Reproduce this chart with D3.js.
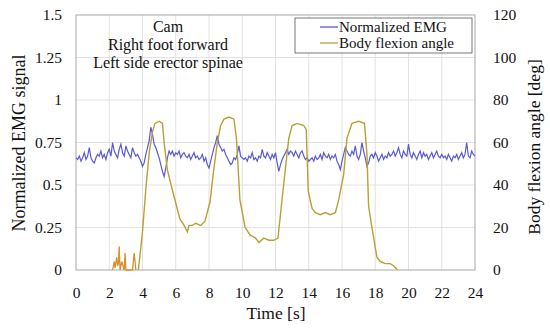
<!DOCTYPE html>
<html>
<head>
<meta charset="utf-8">
<script src="https://cdn.jsdelivr.net/npm/d3@7"></script>
<style>
  body { margin: 0; background: #fff; }
  svg text { font-family: 'Liberation Serif', 'Times New Roman', serif; fill: #111; }
</style>
</head>
<body>
<svg id="svg" width="550" height="332"></svg>
<script>
// EMG samples, every 0.1 s from 0 to 24 s
var emgStep = 0.1;
var emgValues = [
  0.66, 0.65, 0.67, 0.64, 0.66, 0.69, 0.65, 0.67, 0.72, 0.66, 0.64, 0.63, 0.66, 0.68, 0.67, 0.70, 0.66, 0.68, 0.65, 0.69, 0.71,
  0.67, 0.75, 0.70, 0.68, 0.66, 0.71, 0.74, 0.69, 0.67, 0.73, 0.70, 0.68, 0.66, 0.72, 0.69, 0.67, 0.68, 0.66, 0.64, 0.61,
  0.63, 0.68, 0.72, 0.76, 0.84, 0.80, 0.74, 0.72, 0.69, 0.66, 0.62, 0.58, 0.55, 0.60, 0.66, 0.70, 0.68, 0.70, 0.67, 0.69,
  0.68, 0.70, 0.66, 0.68, 0.69, 0.67, 0.66, 0.68, 0.65, 0.67, 0.69, 0.66, 0.67, 0.65, 0.66, 0.68, 0.64, 0.66, 0.62, 0.60,
  0.64, 0.68, 0.72, 0.75, 0.79, 0.74, 0.72, 0.70, 0.71, 0.68, 0.66, 0.64, 0.62, 0.63, 0.66, 0.65, 0.68, 0.73, 0.67, 0.66,
  0.65, 0.66, 0.64, 0.67, 0.66, 0.69, 0.65, 0.66, 0.64, 0.67, 0.66, 0.71, 0.67, 0.66, 0.69, 0.67, 0.65, 0.68, 0.66, 0.69,
  0.63, 0.58, 0.62, 0.65, 0.67, 0.69, 0.71, 0.68, 0.70, 0.69, 0.67, 0.70, 0.68, 0.66, 0.69, 0.70, 0.67, 0.65, 0.66, 0.64,
  0.65, 0.66, 0.64, 0.67, 0.65, 0.66, 0.68, 0.65, 0.69, 0.67, 0.66, 0.68, 0.65, 0.67, 0.66, 0.68, 0.64, 0.62, 0.59, 0.64,
  0.68, 0.72, 0.70, 0.68, 0.67, 0.70, 0.68, 0.73, 0.67, 0.65, 0.68, 0.75, 0.70, 0.66, 0.61, 0.63, 0.67, 0.68, 0.66, 0.69,
  0.67, 0.64, 0.66, 0.68, 0.65, 0.67, 0.66, 0.69, 0.67, 0.68, 0.70, 0.67, 0.69, 0.72, 0.68, 0.66, 0.70, 0.68, 0.67, 0.74,
  0.68, 0.66, 0.69, 0.67, 0.65, 0.68, 0.70, 0.66, 0.69, 0.67, 0.68, 0.65, 0.67, 0.69, 0.66, 0.68, 0.70, 0.67, 0.66, 0.68,
  0.66, 0.67, 0.65, 0.68, 0.66, 0.64, 0.67, 0.66, 0.68, 0.65, 0.67, 0.69, 0.66, 0.68, 0.75, 0.67, 0.66, 0.70, 0.68, 0.67
];

// body flexion angle (deg)
var angleTime = [3.75, 4.0, 4.2, 4.4, 4.6, 4.75, 5.0, 5.2, 5.3, 5.5, 5.85, 6.05, 6.25, 6.5, 6.7, 6.8, 7.0, 7.2, 7.5, 7.76,
  8.06, 8.25, 8.5, 8.7, 8.9, 9.2, 9.5, 9.65, 9.86, 10.17, 10.47, 10.8, 11.0, 11.3, 11.6, 11.9, 12.15, 12.35, 12.6, 12.8,
  13.0, 13.3, 13.7, 13.85, 13.97, 14.2, 14.4, 14.7, 15.0, 15.3, 15.6, 15.8, 16.1, 16.3, 16.6, 17.0, 17.35, 17.5, 17.6, 17.8,
  18.1, 18.3, 18.6, 18.9, 19.1, 19.35];
var angleDeg = [0, 18, 38, 55, 65, 69, 70, 69, 60, 47, 36, 30, 24, 21, 18, 21, 21, 22, 21, 23,
  32, 45, 60, 68, 71, 72, 71, 62, 33, 20, 16.5, 15, 13, 15, 14, 14, 15, 30, 48, 62,
  68, 69, 68, 66, 37, 29, 27, 26, 27, 26, 27, 33, 45, 62, 69, 70, 69, 55, 30, 20,
  6, 4, 3, 3, 2, 0];

// early noise spikes before the first bend
var spikeTime = [2.2, 2.3, 2.35, 2.45, 2.5, 2.55, 2.6, 2.65, 2.75, 2.9, 2.95, 3.0, 3.4, 3.5, 3.6];
var spikeDeg = [0, 4, 1, 6, 2, 3, 11, 0, 4, 0, 8, 0, 0, 8, 0];

var xTicks = d3.range(0, 25, 2);
var yTicks = [0, 0.25, 0.5, 0.75, 1, 1.25, 1.5];
var y2Ticks = [0, 20, 40, 60, 80, 100, 120];
var titleLines = ["Cam", "Right foot forward", "Left side erector spinae"];
var legendNames = ["Normalized EMG", "Body flexion angle"];

var blue = "#5a5ad2", gold = "#b9a034", orange = "#d8902c";
var serif = "'Liberation Serif', 'Times New Roman', serif";

var svg = d3.select("#svg");
var pL = 76, pR = 475, pT = 15, pB = 270;

var x = d3.scaleLinear().domain([0, 24]).range([pL, pR]);
var y = d3.scaleLinear().domain([0, 1.5]).range([pB, pT]);
var y2 = d3.scaleLinear().domain([0, 120]).range([pB, pT]);

// grid
svg.append("g").selectAll("line").data(xTicks.slice(1, -1)).enter().append("line")
  .attr("x1", d => x(d)).attr("x2", d => x(d)).attr("y1", pT).attr("y2", pB)
  .style("stroke", "#e2e2e2");
svg.append("g").selectAll("line").data(yTicks.slice(1, -1)).enter().append("line")
  .attr("y1", d => y(d)).attr("y2", d => y(d)).attr("x1", pL).attr("x2", pR)
  .style("stroke", "#e2e2e2");
svg.append("rect").attr("x", pL).attr("y", pT).attr("width", pR - pL).attr("height", pB - pT)
  .style("fill", "none").style("stroke", "#a8a8a8");

// axes
var xAxis = svg.append("g").attr("transform", "translate(0," + pB + ")")
  .call(d3.axisBottom(x).tickValues(xTicks).tickSize(0).tickPadding(17));
var yAxis = svg.append("g").attr("transform", "translate(" + pL + ",0)")
  .call(d3.axisLeft(y).tickValues(yTicks).tickSize(0).tickPadding(14).tickFormat(d => String(d)));
var y2Axis = svg.append("g").attr("transform", "translate(" + pR + ",0)")
  .call(d3.axisRight(y2).tickValues(y2Ticks).tickSize(0).tickPadding(18));
[xAxis, yAxis, y2Axis].forEach(function (a) {
  a.select(".domain").remove();
  a.attr("font-family", null);
  a.selectAll("text").style("font-family", serif).style("font-size", "15.5px").style("fill", "#111");
});

// lines
var emgLine = d3.line().x((d, i) => x(i * emgStep)).y(d => y(d));
svg.append("path").datum(emgValues).attr("d", emgLine)
  .style("fill", "none").style("stroke", blue).style("stroke-width", 1.2);

var angLine = d3.line().x(d => x(d[0])).y(d => y2(d[1]));
svg.append("path").datum(d3.zip(spikeTime, spikeDeg)).attr("d", angLine)
  .style("fill", "none").style("stroke", orange).style("stroke-width", 1.3);
svg.append("path").datum(d3.zip(angleTime, angleDeg)).attr("d", angLine)
  .style("fill", "none").style("stroke", gold).style("stroke-width", 1.4);

// annotation
svg.append("g").selectAll("text").data(titleLines).enter().append("text")
  .attr("x", 168).attr("y", (d, i) => 32 + i * 18)
  .attr("text-anchor", "middle").style("font-family", serif).style("font-size", "16px").text(d => d);

// legend
var lg = svg.append("g");
lg.append("rect").attr("x", 295).attr("y", 18).attr("width", 177).attr("height", 35)
  .style("fill", "#fff").style("stroke", "#555").style("stroke-width", 0.8);
lg.selectAll("line").data(legendNames).enter().append("line")
  .attr("x1", 320).attr("x2", 338).attr("y1", (d, i) => 27 + i * 16).attr("y2", (d, i) => 27 + i * 16)
  .style("stroke", (d, i) => i ? gold : blue).style("stroke-width", 1.3);
lg.selectAll("text").data(legendNames).enter().append("text")
  .attr("x", 339).attr("y", (d, i) => 32 + i * 16).style("font-family", serif).style("font-size", "15px").text(d => d);

// axis titles
svg.append("text").attr("transform", "translate(25,143) rotate(-90)").attr("text-anchor", "middle")
  .style("font-family", serif).style("font-size", "18px").text("Normalized EMG signal");
svg.append("text").attr("transform", "translate(540,147) rotate(-90)").attr("text-anchor", "middle")
  .style("font-family", serif).style("font-size", "17.5px").text("Body flexion angle [deg]");
svg.append("text").attr("x", 276).attr("y", 319).attr("text-anchor", "middle")
  .style("font-family", serif).style("font-size", "17.5px").text("Time [s]");
</script>
</body>
</html>
